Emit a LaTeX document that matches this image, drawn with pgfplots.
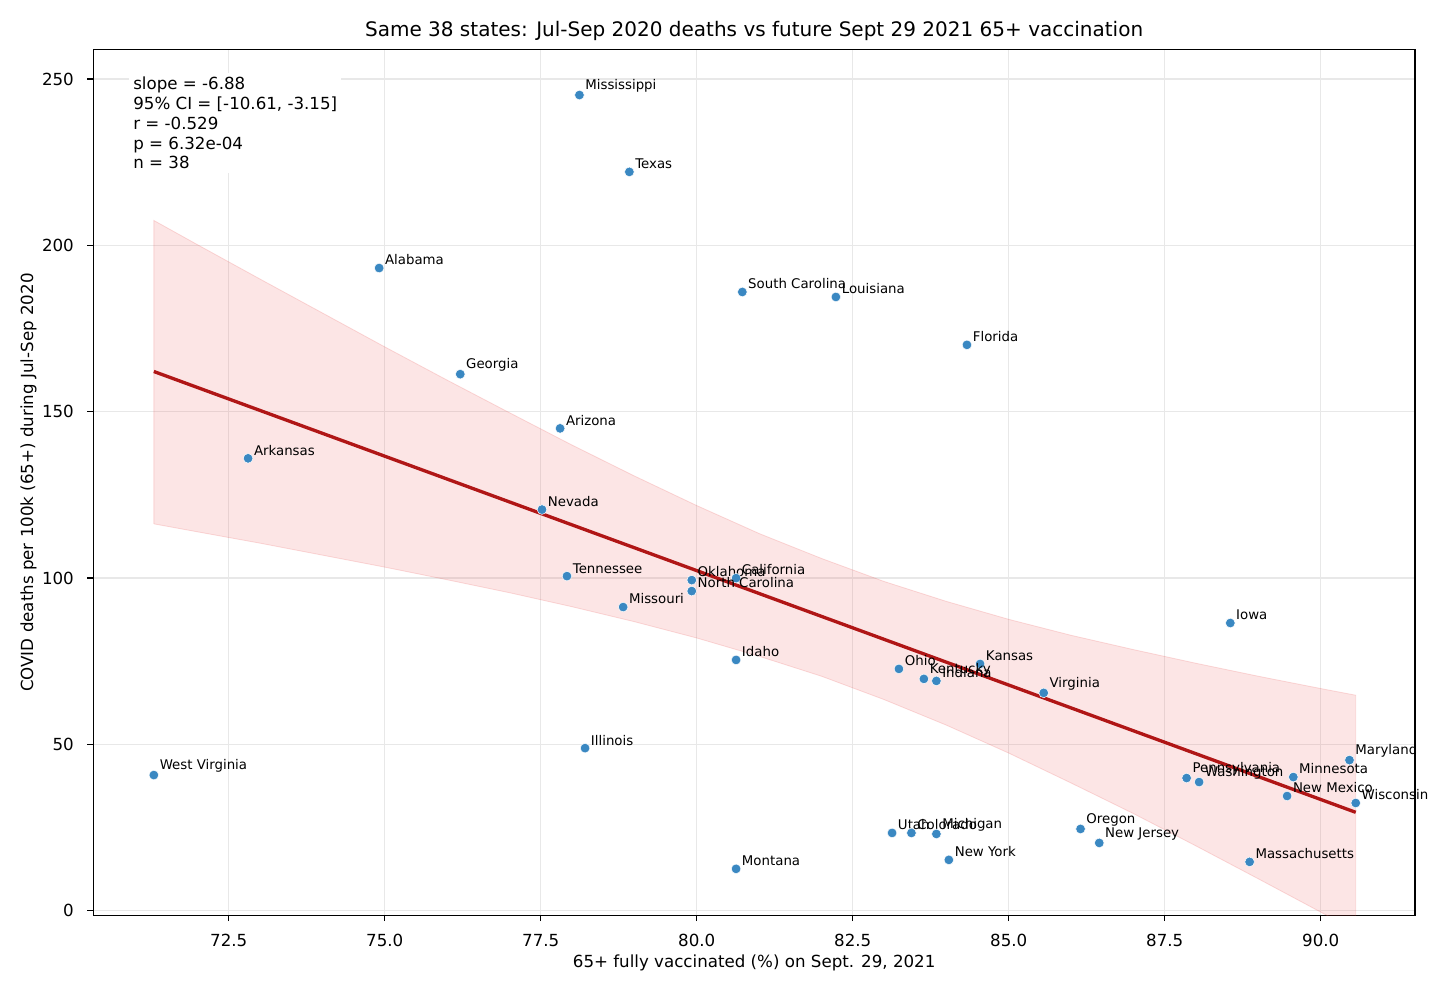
\documentclass[border=0pt]{standalone}
\usepackage{pgfplots}
\usepackage{pgfplotstable}
\pgfplotsset{compat=1.18}
\usepackage{fontspec}
\setmainfont{DejaVu Sans}
\definecolor{ptblue}{RGB}{58,136,194}
\definecolor{fitred}{RGB}{176,22,22}
\definecolor{bandred}{RGB}{232,70,70}

\pgfplotstableread[col sep=comma]{
x,y,label
78.12,245.2,Mississippi
78.92,222.1,Texas
74.91,193.2,Alabama
80.73,186.0,South Carolina
82.23,184.5,Louisiana
84.33,170.1,Florida
76.21,161.3,Georgia
77.81,145.0,Arizona
72.81,136.0,Arkansas
77.52,120.6,Nevada
77.92,100.6,Tennessee
79.92,99.4,Oklahoma
80.63,100.0,California
79.92,96.1,North Carolina
78.82,91.3,Missouri
88.55,86.5,Iowa
80.63,75.4,Idaho
83.24,72.7,Ohio
84.54,74.2,Kansas
83.64,69.7,Kentucky
83.84,69.1,Indiana
85.56,65.5,Virginia
78.21,48.9,Illinois
71.30,40.8,West Virginia
90.46,45.3,Maryland
89.56,40.2,Minnesota
87.85,39.9,Pennsylvania
88.05,38.7,Washington
89.46,34.5,New Mexico
90.56,32.4,Wisconsin
83.13,23.4,Utah
83.44,23.4,Colorado
83.84,23.1,Michigan
86.15,24.6,Oregon
86.45,20.4,New Jersey
84.04,15.3,New York
80.63,12.6,Montana
88.86,14.7,Massachusetts
}\states

\pgfplotstableread[col sep=comma]{
x,y
71.30,116.3
72,113.9
73,110.5
74,106.9
75,103.3
76,99.5
77,95.6
78,91.4
79,86.9
80,82.0
81,76.5
82,70.5
83,63.5
84,55.8
85,47.4
86,38.4
87,29.2
88,19.5
89,9.6
90,-0.4
90.56,-6.0
90.56,64.8
90,66.8
89,70.5
88,74.4
87,78.5
86,82.8
85,87.6
84,93.0
83,99.0
82,105.9
81,113.4
80,121.8
79,130.7
78,140.0
77,149.7
76,159.5
75,169.5
74,179.7
73,189.9
72,200.2
71.30,207.5
71.30,116.3
}\band

\begin{document}
\begin{tikzpicture}
\useasboundingbox (-56pt,-46.56pt) rectangle (817.6pt,549.24pt);
\begin{axis}[
  scale only axis, width=793pt, height=519.36pt,
  at={(0,0)}, anchor=south west,
  xmin=70.33, xmax=91.51, ymin=-1.38, ymax=258.8,
  clip=false,
  xtick={72.5,75,77.5,80,82.5,85,87.5,90},
  xticklabels={72.5,75.0,77.5,80.0,82.5,85.0,87.5,90.0},
  ytick={0,50,100,150,200,250},
  yticklabels={0,50,100,150,200,250},
  xtick pos=left, ytick pos=left,
  tick align=outside, major tick length=3.5pt,
  tick style={line width=0.8pt, black},
  axis line style={line width=0.8pt, black},
  grid=major,
  major grid style={line width=0.8pt, black!9},
  ticklabel style={font=\fontsize{10}{12}\selectfont, inner sep=0pt},
  xticklabel style={anchor=north, yshift=-7.5pt},
  yticklabel style={anchor=east, xshift=-8pt},
  every axis title shift=0pt,
  title={Same 38 states: Jul-Sep 2020 deaths vs future Sept 29 2021 65+ vaccination},
  title style={at={(axis description cs:0.5,1)}, anchor=south, yshift=5pt, inner sep=0pt, font=\fontsize{12}{14}\selectfont},
  xlabel={65+ fully vaccinated (\%) on Sept. 29, 2021},
  ylabel={COVID deaths per 100k (65+) during Jul-Sep 2020},
  xlabel style={at={(axis description cs:0.5,0)}, anchor=north, yshift=-23.3pt, inner sep=0pt, font=\fontsize{10}{12}\selectfont},
  ylabel style={at={([xshift=-33.8pt]axis description cs:0,0.5)}, anchor=south, rotate=0, inner sep=0pt, font=\fontsize{10}{12}\selectfont},
]
\begin{scope}
\clip (rel axis cs:0,0) rectangle (rel axis cs:1,1);
\addplot[fill=bandred, fill opacity=0.14, draw=bandred, draw opacity=0.18, line width=0.5pt] table[x=x, y=y] {\band};
\end{scope}
\addplot[fitred, line width=2pt] coordinates {(71.30,162.1) (90.56,29.6)};
\addplot[only marks, mark=*, mark size=2.9pt,
  mark options={fill=ptblue, draw=white, line width=0.3pt},
  nodes near coords, point meta=explicit symbolic,
  nodes near coords style={anchor=south west, inner sep=0pt, xshift=3.4pt, yshift=1.6pt, font=\fontsize{8}{9.6}\selectfont, text=black}]
  table[x=x, y=y, meta=label] {\states};
\node[anchor=north west, fill=white, inner sep=2.4pt, align=left, font=\fontsize{10}{11.9}\selectfont, xshift=-2.4pt, yshift=2.4pt] at (axis description cs:0.030,0.969) {slope = -6.88\\95\% CI = [-10.61, -3.15]\\r = -0.529\\p = 6.32e-04\\n = 38};
\end{axis}
\end{tikzpicture}
\end{document}
